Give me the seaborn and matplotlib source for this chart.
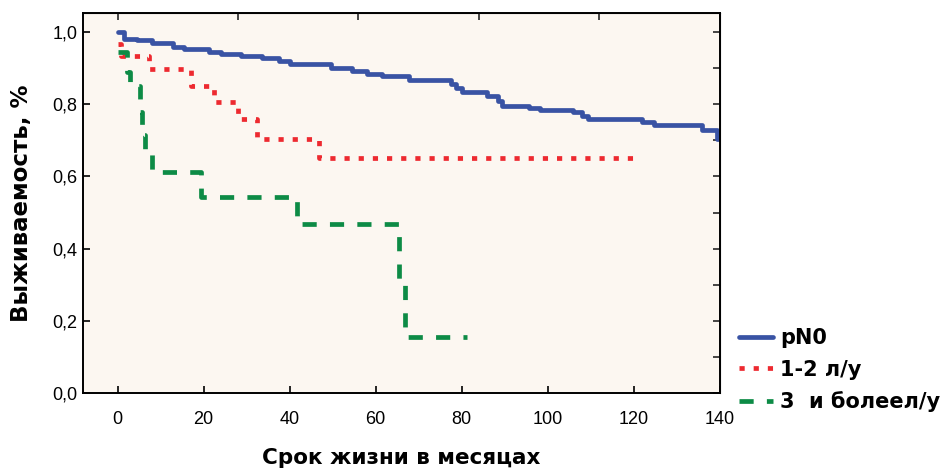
import numpy as np
import pandas as pd
import matplotlib
matplotlib.use("Agg")
import matplotlib.pyplot as plt
import seaborn as sns

# ---------------- data ----------------
groups = ["pN0", "1-2 л/у", "3  и болеел/у"]

pn0_t = [0, 1.5, 4.5, 8, 13, 15.4, 21.3, 24, 28.6, 33.5, 37.5, 40, 49.7, 54.6,
         58, 61.5, 67.8, 77.6, 78.6, 80, 86, 88.4, 89.4, 95.8, 98.2, 106, 108,
         109.5, 122, 124.7, 136, 139.3, 140]
pn0_s = [1.0, 0.98, 0.977, 0.97, 0.96, 0.952, 0.946, 0.94, 0.934, 0.927, 0.92,
         0.911, 0.90, 0.893, 0.885, 0.878, 0.868, 0.857, 0.846, 0.834, 0.824,
         0.81, 0.796, 0.79, 0.784, 0.778, 0.768, 0.759, 0.75, 0.743, 0.73,
         0.703, 0.703]

ln12_t = [0, 0.7, 7.4, 17, 22.5, 28, 32.5, 46.8, 120.3]
ln12_s = [0.968, 0.934, 0.897, 0.85, 0.807, 0.76, 0.704, 0.65, 0.65]

ln3_t = [0, 2.2, 3.0, 5.2, 5.6, 6.4, 7.9, 19.3, 41.7, 65.5, 66.8, 81.2]
ln3_s = [0.946, 0.89, 0.85, 0.78, 0.715, 0.663, 0.613, 0.544, 0.468, 0.313,
         0.156, 0.156]

y_ticks = [0.0, 0.2, 0.4, 0.6, 0.8, 1.0]
y_ticklabels = ["0,0", "0,2", "0,4", "0,6", "0,8", "1,0"]
x_ticks = [0, 20, 40, 60, 80, 100, 120, 140]

df = pd.concat([
    pd.DataFrame({"t": pn0_t, "s": pn0_s, "g": groups[0]}),
    pd.DataFrame({"t": ln12_t, "s": ln12_s, "g": groups[1]}),
    pd.DataFrame({"t": ln3_t, "s": ln3_s, "g": groups[2]}),
], ignore_index=True)

# ---------------- style ----------------
sns.set_style("ticks")
plt.rcParams["font.family"] = ["DejaVu Sans"]
plt.rcParams["text.color"] = "black"
plt.rcParams["axes.labelcolor"] = "black"
colors = {groups[0]: "#3953a4", groups[1]: "#ed2a30", groups[2]: "#0d8b46"}
dashes = {groups[0]: "", groups[1]: (1.1, 1.9), groups[2]: (3.0, 2.8)}

fig = plt.figure(figsize=(9.43, 4.74), dpi=100)
ax = fig.add_axes([0.0877, 0.1709, 0.6758, 0.8017])
ax.set_facecolor("#fcf7f1")

sns.lineplot(data=df, x="t", y="s", hue="g", style="g", palette=colors,
             dashes=dashes, drawstyle="steps-post", estimator=None,
             linewidth=3.4, legend=False, ax=ax)

ax.set_xlim(-8.1, 140.1)
ax.set_ylim(0, 1.053)
ax.set_xticks(x_ticks)
ax.set_yticks(y_ticks)
ax.set_yticklabels(y_ticklabels)
for lab in ax.get_xticklabels() + ax.get_yticklabels():
    lab.set_fontfamily("Liberation Sans")
    lab.set_fontsize(13)
ax.tick_params(axis="x", direction="in", length=5, width=1.2, pad=13,
               colors="black")
ax.tick_params(axis="y", direction="in", length=5, width=1.2, pad=4,
               colors="black")
for sp in ax.spines.values():
    sp.set_visible(True)
    sp.set_linewidth(1.4)
    sp.set_color("black")

# top and right ticks without labels
top = ax.secondary_xaxis("top")
top.set_xticks([0, 28, 56, 84, 112, 140])
top.tick_params(direction="in", length=5, width=1.2, labeltop=False)
right = ax.secondary_yaxis("right")
right.set_yticks(np.round(np.arange(0, 1.01, 0.1), 1))
right.tick_params(direction="in", length=5, width=1.2, labelright=False)

ax.set_xlabel("Срок жизни в месяцах", fontsize=15.5, fontweight="bold")
ax.xaxis.set_label_coords(0.5, -0.145)
ax.set_ylabel("Выживаемость, %", fontsize=16.5, fontweight="bold")
ax.yaxis.set_label_coords(-0.078, 0.5)

handles = ax.get_lines()[:3]
fig.legend(handles, groups, loc="center left", bbox_to_anchor=(0.784, 0.219),
           frameon=False, prop={"weight": "bold", "size": 15},
           handlelength=1.6, handletextpad=0.35, labelspacing=0.55,
           borderaxespad=0, borderpad=0)

fig.savefig("out.png", dpi=100)
